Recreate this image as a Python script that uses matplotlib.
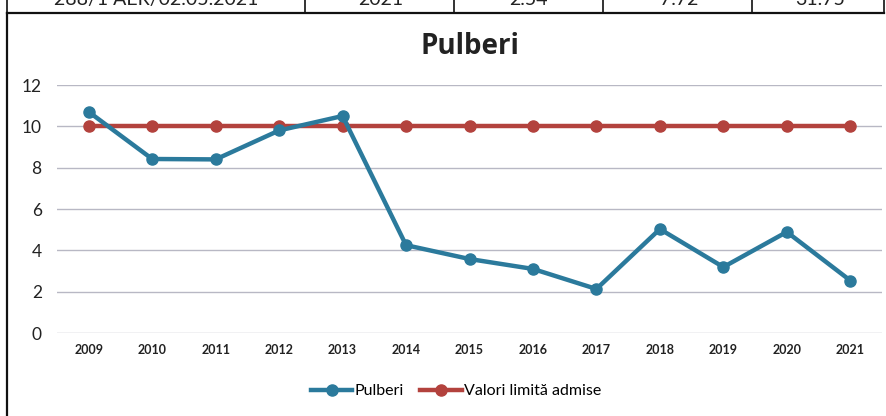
import matplotlib.pyplot as plt
import numpy as np

plt.rcParams['font.family'] = ['Lato', 'DejaVu Sans']

years = ['2009', '2010', '2011', '2012', '2013', '2014', '2015',
         '2016', '2017', '2018', '2019', '2020', '2021']
pulberi = [10.7, 8.42, 8.4, 9.8, 10.5, 4.25, 3.58, 3.1, 2.13, 5.03, 3.19, 4.89, 2.54]
limita = [10] * 13
y_ticks = [0, 2, 4, 6, 8, 10, 12]

# cut-off table row above the chart
table_row = ['288/1 AER/02.05.2021', '2021', '2.54', '7.72', '31.75']
table_x = [156, 381, 528, 679, 820]
table_sep = [7, 305, 454, 603, 752, 884]

W, H = 886, 416
fig = plt.figure(figsize=(W / 100, H / 100), dpi=100)

blue = '#2b7a9c'
red = '#b3423d'

ax = fig.add_axes([57 / W, 1 - 333 / H, (882 - 57) / W, (333 - 85) / H])
x = np.arange(len(years))
ax.plot(x, limita, color=red, lw=3.2, marker='o', ms=8, label='Valori limită admise', zorder=3)
ax.plot(x, pulberi, color=blue, lw=3.2, marker='o', ms=8, label='Pulberi', zorder=4)
ax.set_xlim(-0.5, len(years) - 0.5)
ax.set_ylim(0, 12)
ax.set_yticks(y_ticks)
ax.set_xticks(x)
ax.set_xticklabels(years, fontsize=9, fontweight='bold', color='#222222')
ax.tick_params(axis='y', labelsize=12.5, length=0, pad=11, labelcolor='#222222')
ax.tick_params(axis='x', length=0, pad=8)
ax.grid(axis='y', color='#b8b8c4', lw=1)
ax.set_axisbelow(True)
for s in ax.spines.values():
    s.set_visible(False)

fig.text(470 / W, 1 - 47 / H, 'Pulberi', ha='center', va='center',
         fontsize=20, fontweight='bold', color='#222222', family='Open Sans')

h, l = ax.get_legend_handles_labels()
fig.legend(h[::-1], l[::-1], loc='center', bbox_to_anchor=(456 / W, 1 - 391 / H),
           ncol=2, frameon=False, fontsize=11.5, handlelength=2.6, columnspacing=1.0,
           handletextpad=0.15)

# table row and chart frame
fig.add_artist(plt.Line2D([7 / W, 884 / W], [1 - 13 / H, 1 - 13 / H], color='#111111', lw=1.6))
fig.add_artist(plt.Line2D([7 / W, 7 / W], [0, 1 - 13 / H], color='#111111', lw=1.6))
for xs in table_sep:
    fig.add_artist(plt.Line2D([xs / W, xs / W], [1 - 13 / H, 1], color='#111111', lw=1.2))
for xt, t in zip(table_x, table_row):
    fig.text(xt / W, 1 - 5 / H, t, ha='center', va='baseline', fontsize=14, color='#222222')

fig.savefig('out.png', dpi=100)
